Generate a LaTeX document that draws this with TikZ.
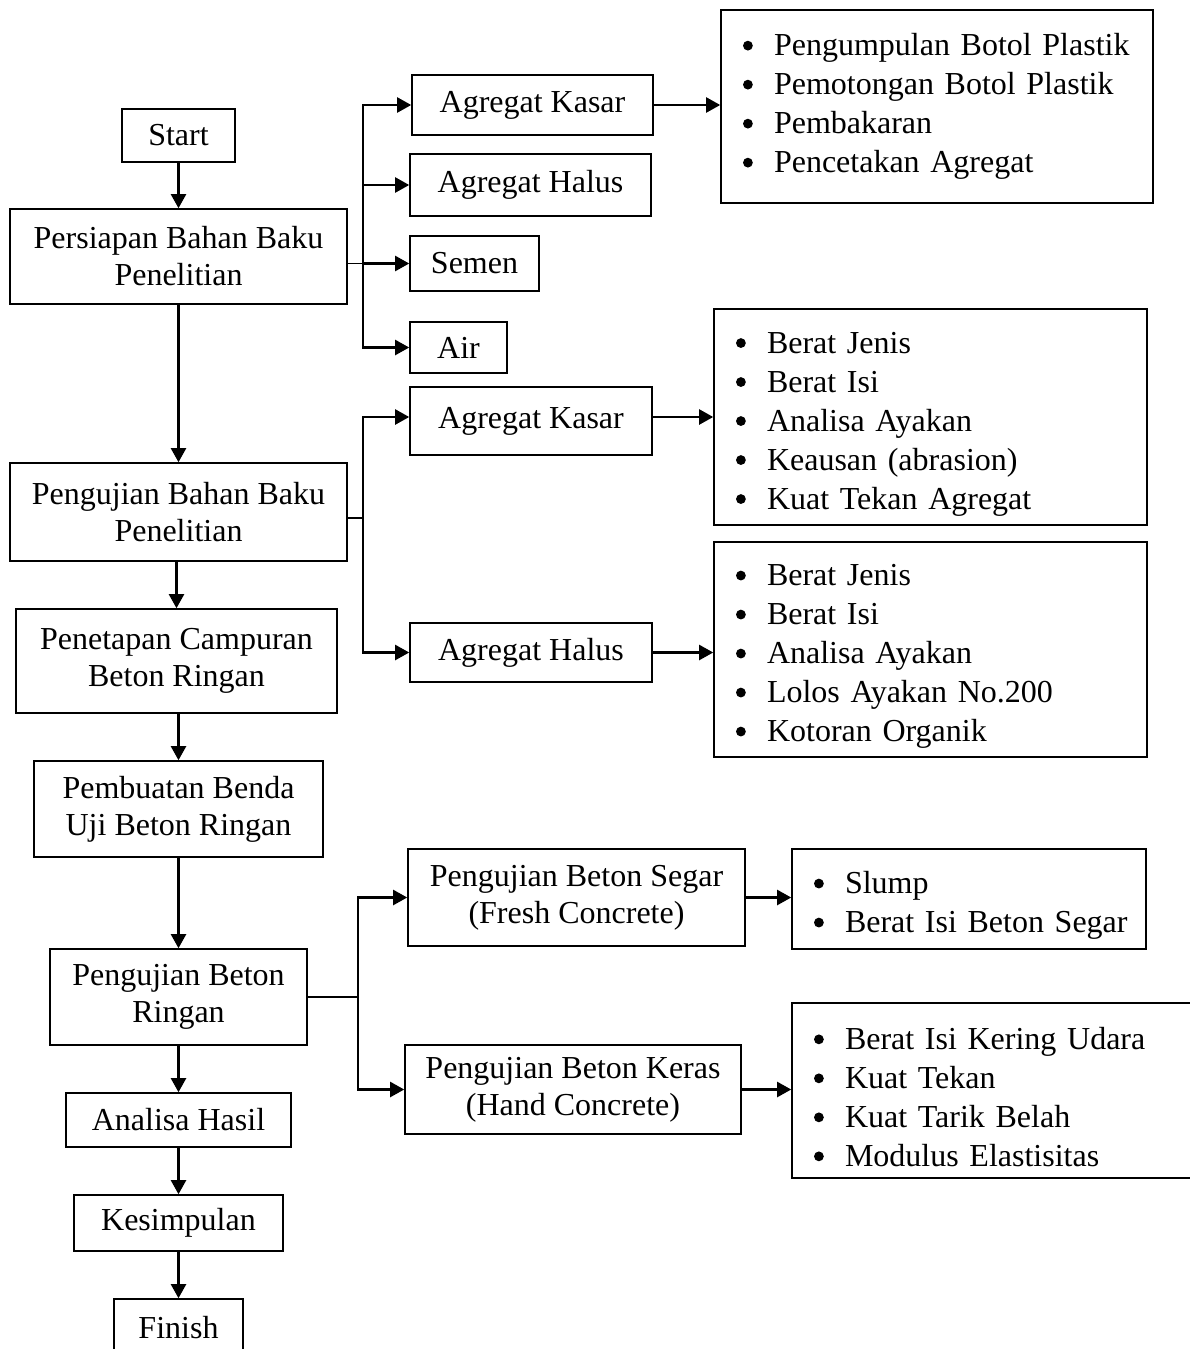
\documentclass[tikz,border=0pt]{standalone}
\usepackage{fontspec}
\setmainfont{Liberation Serif}
\usetikzlibrary{arrows.meta}
\newcommand\itm{\hspace*{22pt}\makebox[31pt][l]{\tikz[baseline=0pt]\fill[black] (5pt,10pt) circle[radius=4.9pt];}}
\newcommand\firstup{\rule{0pt}{35pt}}
\newcommand\lstfont{\fontsize{32}{39}\selectfont\spaceskip=6pt plus 1pt\relax}
\begin{document}
\begin{tikzpicture}[x=1pt,y=-1pt,
 box/.style={draw=black, line width=1.6pt, inner sep=0pt, align=center, font=\fontsize{32}{37}\selectfont},
 lst/.style={draw=black, line width=1.6pt, inner xsep=0pt, inner ysep=0pt, align=left, font=\lstfont},
 arr/.style={line width=2.2pt, -{Triangle[length=14pt,width=15pt]}},
 arrtwo/.style={line width=2.2pt, {Triangle[length=14pt,width=15pt]}-{Triangle[length=14pt,width=15pt]}},
 thinline/.style={line width=1.2pt}]
\useasboundingbox (0,0) rectangle (1190,1349);
\clip (0,0) rectangle (1190,1349);
\fill[white] (0,0) rectangle (1190,1349);

% main column
\node[box, minimum width=113pt, minimum height=53pt] (start) at (178.5,135.5) {Start};
\node[box, minimum width=337pt, minimum height=95pt] (prep) at (178.5,256.5) {Persiapan Bahan Baku\\Penelitian};
\node[box, minimum width=337pt, minimum height=98pt] (pbb) at (178.5,512) {Pengujian Bahan Baku\\Penelitian};
\node[box, minimum width=321pt, minimum height=104pt] (pen) at (176.5,661) {Penetapan Campuran\\Beton Ringan};
\node[box, minimum width=289pt, minimum height=96pt] (pemb) at (178.5,809) {Pembuatan Benda\\Uji Beton Ringan};
\node[box, minimum width=257pt, minimum height=96pt] (pbr) at (178.5,997) {Pengujian Beton\\Ringan};
\node[box, minimum width=225pt, minimum height=54pt] (analisa) at (178.5,1120) {Analisa Hasil};
\node[box, minimum width=209pt, minimum height=56pt] (kes) at (178.5,1223) {Kesimpulan};
\node[box, minimum width=129pt, minimum height=58pt] (fin) at (178.5,1328) {Finish};

% first branch
\node[box, minimum width=241pt, minimum height=60pt] (ak1) at (532.5,105) {Agregat Kasar};
\node[box, minimum width=241pt, minimum height=62pt] (ah1) at (530.5,185) {Agregat Halus};
\node[box, minimum width=129pt, minimum height=55pt] (semen) at (474.5,263.5) {Semen};
\node[box, minimum width=97pt, minimum height=51pt] (air) at (458.5,347.5) {Air};
\node[lst, text width=432pt, minimum height=193pt] (l1) at (937,106.5)
 {\itm Pengumpulan Botol Plastik\\\itm Pemotongan Botol Plastik\\\itm Pembakaran\\\itm Pencetakan Agregat};

% second branch
\node[box, minimum width=242pt, minimum height=68pt] (ak2) at (531,421) {Agregat Kasar};
\node[box, minimum width=242pt, minimum height=59pt] (ah2) at (531,652.5) {Agregat Halus};
\node[lst, text width=433pt, minimum height=216pt] (l2) at (930.5,417)
 {\firstup\itm Berat Jenis\\\itm Berat Isi\\\itm Analisa Ayakan\\\itm Keausan (abrasion)\\\itm Kuat Tekan Agregat};
\node[lst, text width=433pt, minimum height=215pt] (l3) at (930.5,649.5)
 {\firstup\itm Berat Jenis\\\itm Berat Isi\\\itm Analisa Ayakan\\\itm Lolos Ayakan No.200\\\itm Kotoran Organik};

% third branch
\node[box, minimum width=337pt, minimum height=97pt] (segar) at (576.5,897.5) {Pengujian Beton Segar\\(Fresh Concrete)};
\node[box, minimum width=336pt, minimum height=89pt] (keras) at (573,1089.5) {Pengujian Beton Keras\\(Hand Concrete)};
\node[lst, text width=354pt, minimum height=100pt] (l4) at (969,899)
 {\firstup\itm Slump\\\itm Berat Isi Beton Segar};
\node[lst, text width=448pt, minimum height=175pt] (l5) at (1016,1090.5)
 {\firstup\itm Berat Isi Kering Udara\\\itm Kuat Tekan\\\itm Kuat Tarik Belah\\\itm Modulus Elastisitas};

% bus coordinates
\coordinate (b1) at (363,0);
\coordinate (b2) at (363,0);
\coordinate (b3) at (358,0);
\coordinate (pbbout) at ([yshift=-6pt]pbb.east);
\coordinate (ak2in) at ([yshift=4pt]ak2.west);

% main column arrows
\draw[arr] (start) -- (prep);
\draw[arr] (prep) -- (pbb);
\draw[arr] (pbb.south -| pen.north) -- (pen.north);
\draw[arr] (pen.south -| pemb.north) -- (pemb.north);
\draw[arr] (pemb) -- (pbr);
\draw[arr] (pbr) -- (analisa);
\draw[arr] (analisa) -- (kes);
\draw[arr] (kes) -- (fin);

% branch 1
\draw[thinline] (prep.east |- semen.west) -- (semen.west -| b1);
\draw[arr] (semen.west -| b1) -- (semen.west);
\draw[arrtwo] (ak1.west) -- (ak1.west -| b1) -- (air.west -| b1) -- (air.west);
\draw[arr] (ah1.west -| b1) -- (ah1.west);
\draw[arr] (ak1.east) -- (ak1.east -| l1.west);

% branch 2
\draw[thinline] (pbbout) -- (pbbout -| b2);
\draw[arrtwo] (ak2in) -- (ak2in -| b2) -- (ah2.west -| b2) -- (ah2.west);
\draw[arr] (ak2.east |- ak2in) -- (ak2in -| l2.west);
\draw[arr] (ah2.east) -- (ah2.east -| l3.west);

% branch 3
\draw[thinline] (pbr.east) -- (pbr.east -| b3);
\draw[arrtwo] (segar.west) -- (segar.west -| b3) -- (keras.west -| b3) -- (keras.west);
\draw[arr] (segar.east) -- (segar.east -| l4.west);
\draw[arr] (keras.east) -- (keras.east -| l5.west);
\end{tikzpicture}
\end{document}
